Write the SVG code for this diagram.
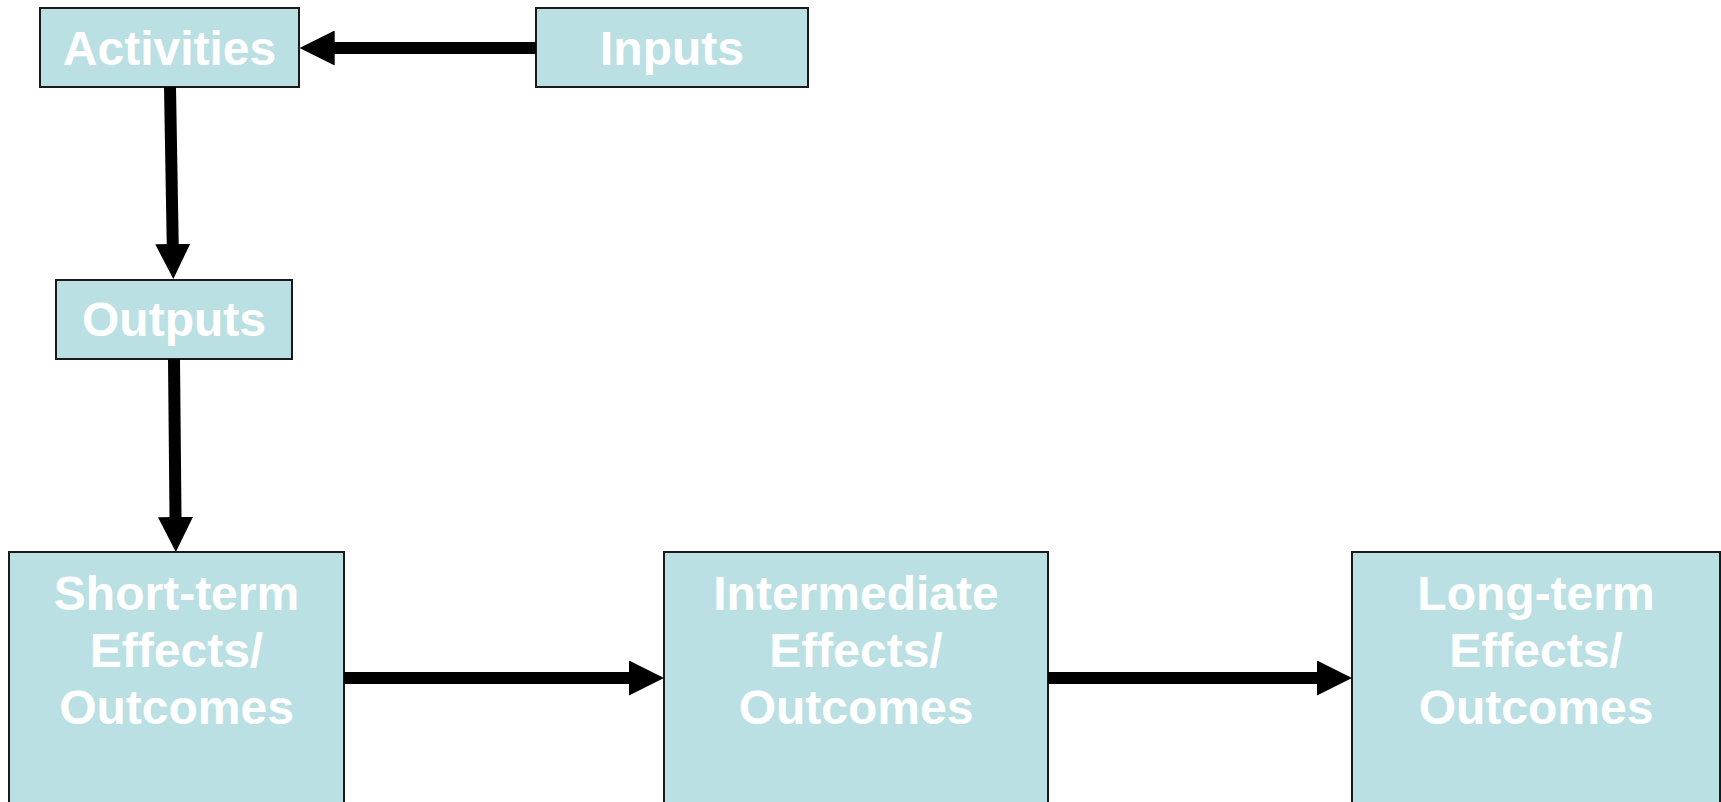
<svg xmlns="http://www.w3.org/2000/svg" width="1721" height="802" viewBox="0 0 1721 802">
  <style>
    .box { fill: #BBE0E3; stroke: #1a1a1a; stroke-width: 2; }
    .lbl { font-family: "Liberation Sans", Arial, sans-serif; font-weight: bold; font-size: 48px; fill: #ffffff; text-anchor: middle; }
    .conn { stroke: #000000; stroke-width: 12; fill: none; marker-end: url(#head); }
  </style>
  <defs>
    <marker id="head" viewBox="0 0 35 35" refX="10" refY="17.5" markerWidth="35" markerHeight="35" markerUnits="userSpaceOnUse" orient="auto">
      <path d="M0,0 L35,17.5 L0,35 Z" fill="#000000"/>
    </marker>
  </defs>
  <rect width="1721" height="802" fill="#ffffff"/>

  <g id="node-activities">
    <rect class="box" x="40" y="8" width="259" height="79"/>
    <text class="lbl" x="169.5" y="65">Activities</text>
  </g>
  <g id="node-inputs">
    <rect class="box" x="536" y="8" width="272" height="79"/>
    <text class="lbl" x="672" y="65">Inputs</text>
  </g>
  <g id="node-outputs">
    <rect class="box" x="56" y="280" width="236" height="79"/>
    <text class="lbl" x="174" y="336">Outputs</text>
  </g>
  <g id="node-short">
    <rect class="box" x="9" y="552" width="335" height="270"/>
    <text class="lbl" x="176.5" y="610">Short-term</text>
    <text class="lbl" x="176.5" y="667">Effects/</text>
    <text class="lbl" x="176.5" y="724">Outcomes</text>
  </g>
  <g id="node-intermediate">
    <rect class="box" x="664" y="552" width="384" height="270"/>
    <text class="lbl" x="856" y="610">Intermediate</text>
    <text class="lbl" x="856" y="667">Effects/</text>
    <text class="lbl" x="856" y="724">Outcomes</text>
  </g>
  <g id="node-long">
    <rect class="box" x="1352" y="552" width="368" height="270"/>
    <text class="lbl" x="1536" y="610">Long-term</text>
    <text class="lbl" x="1536" y="667">Effects/</text>
    <text class="lbl" x="1536" y="724">Outcomes</text>
  </g>

  <g id="connectors">
    <path class="conn" d="M536,48 L324.7,48"/>
    <path class="conn" d="M170,87 L172.9,254"/>
    <path class="conn" d="M174,359 L175.6,527"/>
    <path class="conn" d="M344,678 L639,678"/>
    <path class="conn" d="M1048,678 L1327,678"/>
  </g>
</svg>
